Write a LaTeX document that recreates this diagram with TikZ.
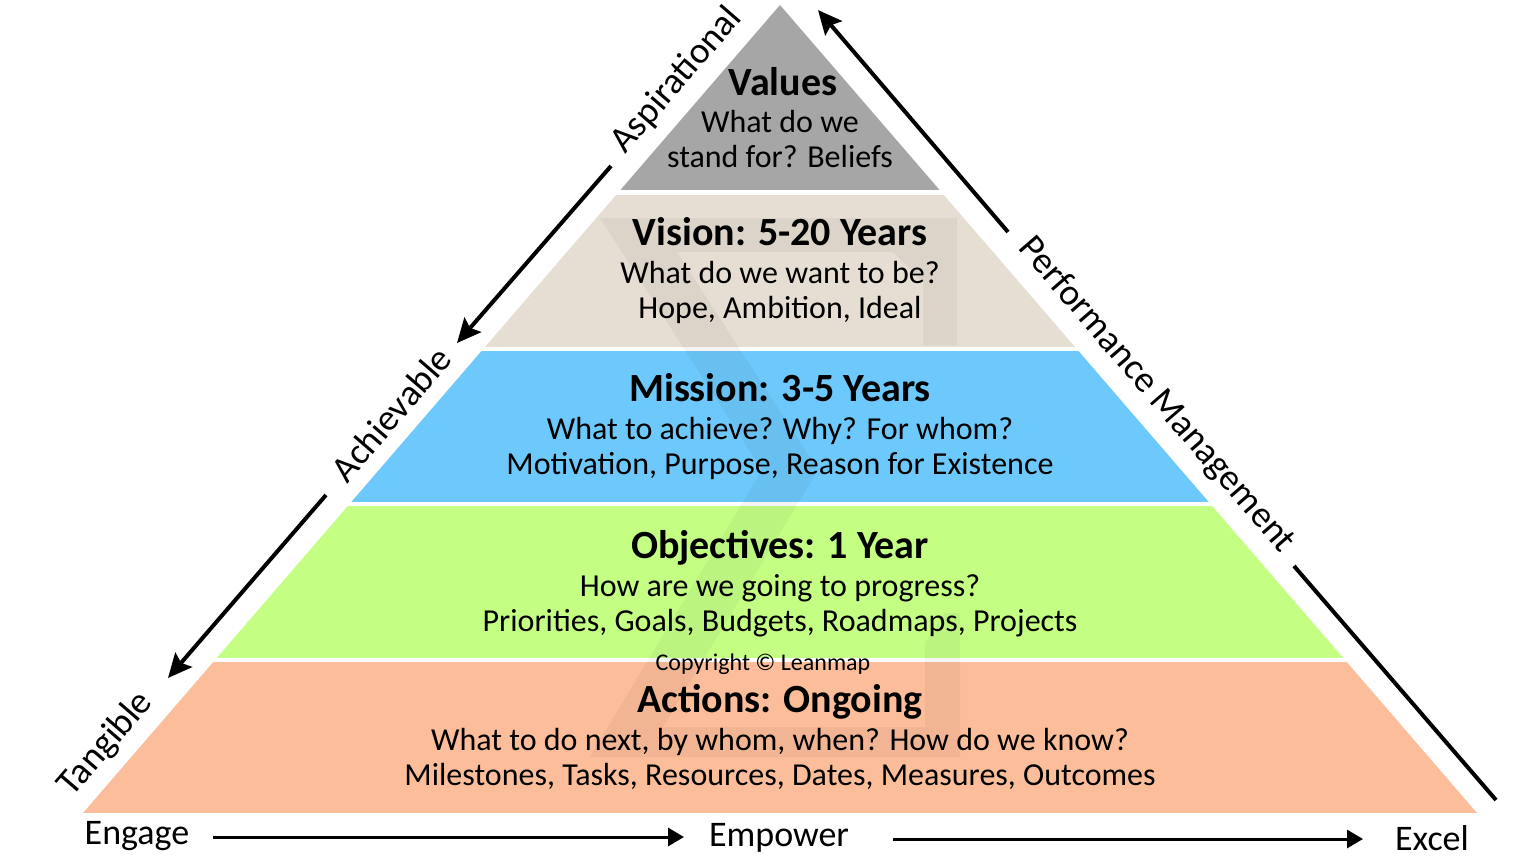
\documentclass[tikz,border=0pt]{standalone}
\usepackage{fontspec}
\setmainfont{Carlito}
\usetikzlibrary{arrows.meta}
\definecolor{valuescol}{HTML}{A6A6A6}
\definecolor{visioncol}{HTML}{E6DED2}
\definecolor{missioncol}{HTML}{6DC9FB}
\definecolor{objcol}{HTML}{C4FF84}
\definecolor{actcol}{HTML}{FCBE9A}
\tikzset{
  ttl/.style={font=\fontsize{20}{24}\selectfont\bfseries, anchor=base, inner sep=0pt},
  bdy/.style={font=\fontsize{16}{19}\selectfont, anchor=base, inner sep=0pt},
  sidelbl/.style={font=\fontsize{18.5}{22}\selectfont, anchor=center, inner sep=0pt},
  botlbl/.style={font=\fontsize{18}{21}\selectfont, anchor=center, inner sep=0pt},
  sidearrow/.style={line width=2pt, -{Stealth[length=12pt,width=11pt,inset=2pt]}},
  sideline/.style={line width=2pt},
  botarrow/.style={line width=1.5pt, -{Triangle[length=8pt,width=9pt]}},
  wm/.style={fill=black, opacity=0.045}
}
\begin{document}
\begin{tikzpicture}[x=0.5pt,y=-0.5pt]
\useasboundingbox (0,0) rectangle (1536,858);
% pyramid layers
\begin{scope}
  \clip (780,5) -- (83,813) -- (1477,813) -- cycle;
  \fill[valuescol]  (0,0)   rectangle (1536,190);
  \fill[visioncol]  (0,195) rectangle (1536,347);
  \fill[missioncol] (0,351) rectangle (1536,502);
  \fill[objcol]     (0,506) rectangle (1536,658);
  \fill[actcol]     (0,662) rectangle (1536,813);
\end{scope}
% faint watermark
\fill[wm] (600,218) -- (957,218) -- (957,345) -- (923,345) -- (923,282) -- (893,252)
  -- (677,252) -- (818,470) -- (663,727) -- (925,727) -- (925,643) -- (945,613)
  -- (960,613) -- (960,757) -- (590,757) -- (762,470) -- cycle;
% layer texts
\node[ttl] (vt) at (783,95) {Values};
\node[bdy] (vb1) at (780,132) {What do we};
\node[bdy] (vb2) at (780,167) {stand for? Beliefs};
\node[ttl] (it) at (780,245) {Vision: 5-20 Years};
\node[bdy] (ib1) at (780,283) {What do we want to be?};
\node[bdy] (ib2) at (780,318) {Hope, Ambition, Ideal};
\node[ttl] (mt) at (780,401) {Mission: 3-5 Years};
\node[bdy] (mb1) at (780,439) {What to achieve? Why? For whom?};
\node[bdy] (mb2) at (780,474) {Motivation, Purpose, Reason for Existence};
\node[ttl] (ot) at (780,558) {Objectives: 1 Year};
\node[bdy] (ob1) at (780,596) {How are we going to progress?};
\node[bdy] (ob2) at (780,631) {Priorities, Goals, Budgets, Roadmaps, Projects};
\node[font=\fontsize{12}{14}\selectfont, anchor=base, inner sep=0pt] (copy) at (763,670) {Copyright © Leanmap};
\node[ttl] (at) at (780,712) {Actions: Ongoing};
\node[bdy] (ab1) at (780,750) {What to do next, by whom, when? How do we know?};
\node[bdy] (ab2) at (780,785) {Milestones, Tasks, Resources, Dates, Measures, Outcomes};
% side labels
\node[sidelbl, rotate=49.2] (asp) at (677,80) {Aspirational};
\node[sidelbl, rotate=49.2] (ach) at (391,414) {Achievable};
\node[sidelbl, rotate=49.2] (tang) at (106,744) {Tangible};
\node[sidelbl, rotate=-49.2] (perf) at (1156,395) {Performance Management};
% side arrows
\coordinate (l1s) at (611,166);
\coordinate (l1e) at (457,343);
\coordinate (l2s) at (326,495);
\coordinate (l2e) at (168,678);
\coordinate (r1s) at (1008,232);
\coordinate (r1e) at (818,10);
\coordinate (r2s) at (1294,566);
\coordinate (r2e) at (1496,800);
\draw[sidearrow] (l1s) -- (l1e);
\draw[sidearrow] (l2s) -- (l2e);
\draw[sidearrow] (r1s) -- (r1e);
\draw[sideline] (r2s) -- (r2e);
% bottom labels and arrows
\node[botlbl] (eng) at (137,836) {Engage};
\node[botlbl] (emp) at (779,838) {Empower};
\node[botlbl] (exc) at (1432,838) {Excel};
\coordinate (b1s) at (213,837);
\coordinate (b1e) at (684,837);
\coordinate (b2s) at (893,839);
\coordinate (b2e) at (1363,839);
\draw[botarrow] (b1s) -- (b1e);
\draw[botarrow] (b2s) -- (b2e);
\end{tikzpicture}
\end{document}
